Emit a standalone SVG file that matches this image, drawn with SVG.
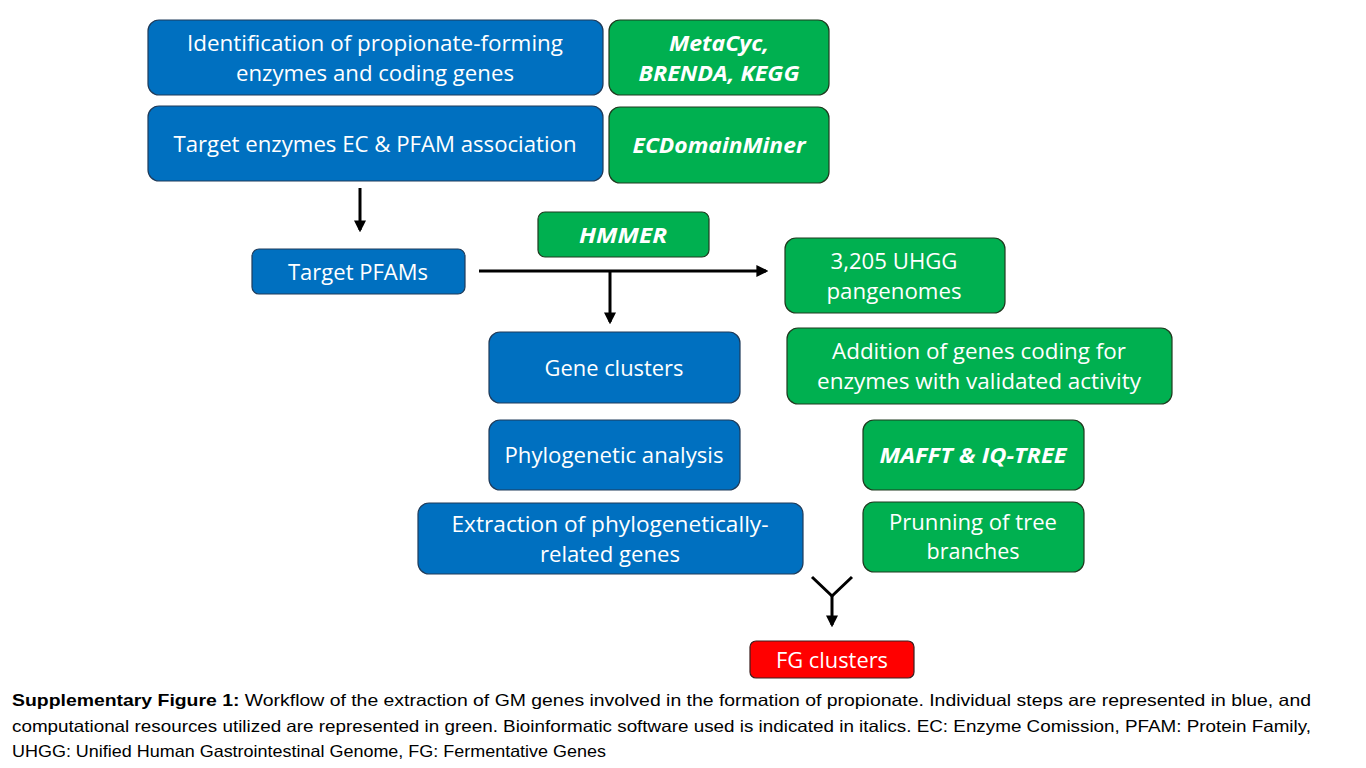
<svg xmlns="http://www.w3.org/2000/svg" width="1366" height="768" viewBox="0 0 1366 768">
<defs>
<style>
.b{fill:#0070C0;stroke:#1f3b5a;stroke-width:1.2}
.g{fill:#00B050;stroke:#1f3a1f;stroke-width:1.2}
.r{fill:#FF0000;stroke:#3a1f1f;stroke-width:1.2}
.t{font-family:"Open Sans","Liberation Sans",sans-serif;font-size:21px;fill:#fff;text-anchor:middle}
.ti{font-family:"Open Sans","Liberation Sans",sans-serif;font-size:21px;fill:#fff;text-anchor:middle;font-weight:bold;font-style:italic}
.cap{font-family:"Liberation Sans",sans-serif;font-size:16.5px;fill:#000}
.c{stroke:#000;stroke-width:3;fill:none}
</style>
<marker id="ah" viewBox="0 0 10 10" refX="8" refY="5" markerWidth="4" markerHeight="4" orient="auto" markerUnits="strokeWidth">
<path d="M0,0 L10,5 L0,10 Z" fill="#000"/>
</marker>
</defs>
<rect width="1366" height="768" fill="#fff"/>
<g id="connectors">
<line class="c" x1="360" y1="188" x2="360" y2="230" marker-end="url(#ah)"/>
<line class="c" x1="479" y1="271" x2="766" y2="271" marker-end="url(#ah)"/>
<line class="c" x1="610" y1="271" x2="610" y2="322" marker-end="url(#ah)"/>
<polyline class="c" points="812,577 832,596 852,577"/>
<line class="c" x1="832" y1="596" x2="832" y2="625" marker-end="url(#ah)"/>
</g>
<g id="n1"><rect class="b" x="148" y="20" width="455" height="75" rx="11"/>
<text class="t" x="375" y="51" textLength="376" lengthAdjust="spacingAndGlyphs">Identification of propionate-forming</text>
<text class="t" x="375" y="81" textLength="278" lengthAdjust="spacingAndGlyphs">enzymes and coding genes</text></g>
<g id="n2"><rect class="g" x="609" y="20" width="220" height="75" rx="11"/>
<text class="ti" x="719" y="51" textLength="100" lengthAdjust="spacingAndGlyphs">MetaCyc,</text>
<text class="ti" x="719" y="81" textLength="161" lengthAdjust="spacingAndGlyphs">BRENDA, KEGG</text></g>
<g id="n3"><rect class="b" x="148" y="106" width="455" height="75" rx="11"/>
<text class="t" x="375" y="152" textLength="403" lengthAdjust="spacingAndGlyphs">Target enzymes EC &amp; PFAM association</text></g>
<g id="n4"><rect class="g" x="609" y="107" width="220" height="76" rx="11"/>
<text class="ti" x="719" y="153" textLength="173" lengthAdjust="spacingAndGlyphs">ECDomainMiner</text></g>
<g id="n5"><rect class="b" x="252" y="249" width="213" height="45" rx="7"/>
<text class="t" x="358" y="280" textLength="140" lengthAdjust="spacingAndGlyphs">Target PFAMs</text></g>
<g id="n6"><rect class="g" x="538" y="212" width="171" height="45" rx="7"/>
<text class="ti" x="623" y="243" textLength="88" lengthAdjust="spacingAndGlyphs">HMMER</text></g>
<g id="n7"><rect class="g" x="785" y="238" width="220" height="75" rx="11"/>
<text class="t" x="894" y="269" textLength="127" lengthAdjust="spacingAndGlyphs">3,205 UHGG</text>
<text class="t" x="894" y="299" textLength="135" lengthAdjust="spacingAndGlyphs">pangenomes</text></g>
<g id="n8"><rect class="b" x="489" y="332" width="251" height="71" rx="11"/>
<text class="t" x="614" y="376" textLength="139" lengthAdjust="spacingAndGlyphs">Gene clusters</text></g>
<g id="n9"><rect class="g" x="787" y="328" width="385" height="76" rx="11"/>
<text class="t" x="979" y="359" textLength="294" lengthAdjust="spacingAndGlyphs">Addition of genes coding for</text>
<text class="t" x="979" y="389" textLength="324" lengthAdjust="spacingAndGlyphs">enzymes with validated activity</text></g>
<g id="n10"><rect class="b" x="489" y="420" width="251" height="70" rx="11"/>
<text class="t" x="614" y="463" textLength="219" lengthAdjust="spacingAndGlyphs">Phylogenetic analysis</text></g>
<g id="n11"><rect class="g" x="863" y="420" width="221" height="70" rx="11"/>
<text class="ti" x="973" y="463" textLength="187" lengthAdjust="spacingAndGlyphs">MAFFT &amp; IQ-TREE</text></g>
<g id="n12"><rect class="b" x="418" y="503" width="385" height="71" rx="11"/>
<text class="t" x="610" y="532" textLength="317" lengthAdjust="spacingAndGlyphs">Extraction of phylogenetically-</text>
<text class="t" x="610" y="562" textLength="140" lengthAdjust="spacingAndGlyphs">related genes</text></g>
<g id="n13"><rect class="g" x="863" y="502" width="221" height="70" rx="11"/>
<text class="t" x="973" y="530" textLength="168" lengthAdjust="spacingAndGlyphs">Prunning of tree</text>
<text class="t" x="973" y="559" textLength="93" lengthAdjust="spacingAndGlyphs">branches</text></g>
<g id="n14"><rect class="r" x="750" y="641" width="164" height="37" rx="6"/>
<text class="t" x="832" y="668" textLength="112" lengthAdjust="spacingAndGlyphs">FG clusters</text></g>
<g id="caption">
<text class="cap" x="12" y="706" textLength="1299" lengthAdjust="spacingAndGlyphs"><tspan font-weight="bold">Supplementary Figure 1:</tspan> Workflow of the extraction of GM genes involved in the formation of propionate. Individual steps are represented in blue, and</text>
<text class="cap" x="12" y="732" textLength="1299" lengthAdjust="spacingAndGlyphs">computational resources utilized are represented in green. Bioinformatic software used is indicated in italics. EC: Enzyme Comission, PFAM: Protein Family,</text>
<text class="cap" x="12" y="757" textLength="594" lengthAdjust="spacingAndGlyphs">UHGG: Unified Human Gastrointestinal Genome, FG: Fermentative Genes</text>
</g>
</svg>
